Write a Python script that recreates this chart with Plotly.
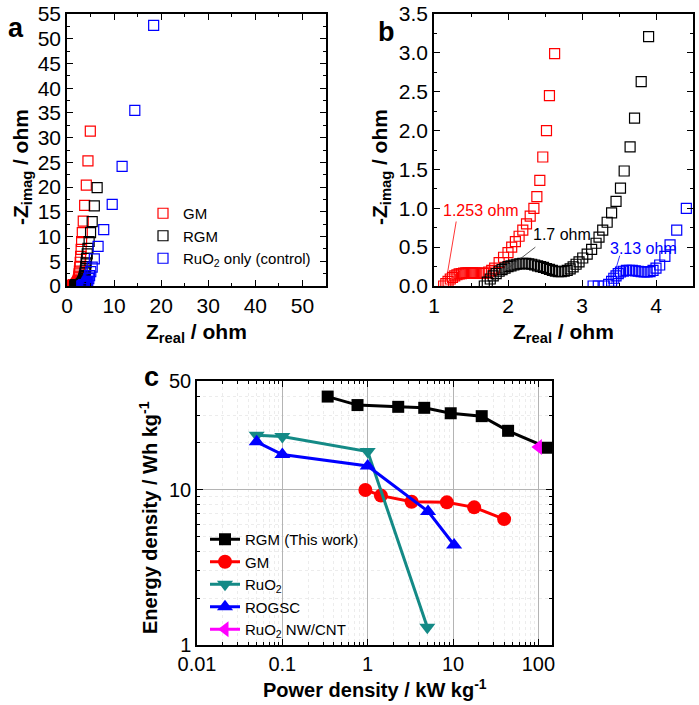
import math
import plotly.graph_objects as go

# ---------------- Nyquist data (panels a and b) ----------------
gm_zreal = [1.13, 1.16, 1.19, 1.22, 1.25, 1.28, 1.31, 1.34, 1.37, 1.40, 1.43, 1.46, 1.49, 1.52,
            1.55, 1.58, 1.61, 1.64, 1.67, 1.70, 1.74, 1.78, 1.82, 1.88, 1.94, 2.00, 2.05, 2.10,
            2.15, 2.20, 2.25, 2.30, 2.35, 2.39, 2.43, 2.47, 2.52, 2.56, 2.63,
            2.70, 2.80, 2.90, 3.00, 3.10, 3.25, 3.45, 3.75, 4.10, 4.45, 4.95]
gm_zimag = [0.00, 0.03, 0.06, 0.09, 0.11, 0.13, 0.145, 0.155, 0.16, 0.165, 0.17, 0.17, 0.17, 0.17,
            0.168, 0.165, 0.163, 0.162, 0.163, 0.166, 0.18, 0.20, 0.23, 0.30, 0.37, 0.43, 0.50, 0.57,
            0.64, 0.72, 0.80, 0.90, 1.00, 1.15, 1.36, 1.66, 2.00, 2.45, 2.99,
            3.8, 4.8, 6.0, 7.4, 9.0, 10.8, 13.1, 16.3, 20.4, 25.3, 31.3]

rgm_zreal = [1.68, 1.72, 1.76, 1.80, 1.84, 1.88, 1.92, 1.96, 2.00, 2.04, 2.08, 2.12, 2.16, 2.20,
             2.24, 2.28, 2.32, 2.36, 2.40, 2.44, 2.48, 2.52, 2.56, 2.60, 2.64, 2.68, 2.72, 2.76,
             2.80, 2.84, 2.88, 2.92, 2.96, 3.01, 3.07, 3.13, 3.19, 3.23, 3.28, 3.34, 3.40, 3.46,
             3.52, 3.57, 3.65, 3.71, 3.80, 3.90,
             3.98, 4.05, 4.15, 4.30, 4.45, 4.70, 5.00, 5.35, 5.80, 6.40]
rgm_zimag = [0.00, 0.05, 0.09, 0.13, 0.16, 0.19, 0.21, 0.23, 0.25, 0.26, 0.27, 0.28, 0.285, 0.29,
             0.29, 0.285, 0.28, 0.27, 0.26, 0.25, 0.24, 0.225, 0.215, 0.20, 0.19, 0.185, 0.185, 0.19,
             0.20, 0.22, 0.245, 0.28, 0.31, 0.36, 0.41, 0.47, 0.55, 0.63, 0.72, 0.82, 0.94, 1.09,
             1.26, 1.48, 1.79, 2.16, 2.63, 3.21,
             3.9, 4.7, 5.6, 6.5, 7.6, 9.0, 10.8, 13.0, 16.2, 19.9]

ruo2_zreal = [3.15, 3.22, 3.30, 3.36, 3.40, 3.43, 3.46, 3.49, 3.52, 3.56, 3.60, 3.64, 3.68, 3.72,
              3.76, 3.80, 3.84, 3.88, 3.92, 3.96, 4.00, 4.05, 4.12, 4.19, 4.28, 4.41,
              4.62, 4.80, 5.05, 5.35, 5.80, 6.60, 7.80, 9.60, 11.70, 14.40, 18.40]
ruo2_zimag = [0.0, 0.0, 0.0, 0.02, 0.06, 0.10, 0.13, 0.16, 0.18, 0.19, 0.20, 0.20, 0.20, 0.195,
              0.19, 0.185, 0.18, 0.18, 0.185, 0.20, 0.23, 0.27, 0.38, 0.53, 0.72, 1.0,
              1.5, 2.1, 2.9, 3.8, 5.5, 8.0, 11.4, 16.5, 24.2, 35.5, 52.7]

nyquist_names = ["GM", "RGM", "RuO<sub>2</sub> only (control)"]
nyquist_colors = ["#ff0000", "#000000", "#0000ff"]

# ---------------- Ragone data (panel c) ----------------
rgm_power = [0.34, 0.76, 2.28, 4.6, 9.4, 21.7, 44.2, 127]
rgm_energy = [39.7, 35.0, 34.1, 33.6, 31.0, 29.7, 23.9, 18.6]
gm_power = [0.94, 1.43, 3.27, 8.47, 17.7, 39.7]
gm_energy = [9.95, 9.15, 8.36, 8.28, 7.69, 6.46]
ruo2_power = [0.05, 0.1, 1.0, 5.0]
ruo2_energy = [22.4, 22.0, 17.6, 1.3]
rogsc_power = [0.05, 0.1, 1.0, 5.1, 10.3]
rogsc_energy = [20.3, 16.8, 14.2, 7.24, 4.4]
nwcnt_power = [100]
nwcnt_energy = [18.8]

power_ticks = [0.01, 0.1, 1, 10, 100]
power_ticktext = ["0.01", "0.1", "1", "10", "100"]
energy_ticks = [1, 10, 50]
energy_ticktext = ["1", "10", "50"]

W, H = 699, 705
FONT = "Arial, Liberation Sans, sans-serif"


def px_x(p):
    return p / W


def px_y(p):
    return 1 - p / H


fig = go.Figure()

nyq = [(gm_zreal, gm_zimag), (rgm_zreal, rgm_zimag), (ruo2_zreal, ruo2_zimag)]
for (xs, ys), name, color in zip(nyq, nyquist_names, nyquist_colors):
    fig.add_trace(go.Scatter(
        x=xs, y=ys, mode="markers", name=name, legend="legend",
        marker=dict(symbol="square-open", size=10, color=color, line=dict(width=1.2, color=color)),
        xaxis="x", yaxis="y"))
for (xs, ys), name, color in zip(nyq, nyquist_names, nyquist_colors):
    fig.add_trace(go.Scatter(
        x=xs, y=ys, mode="markers", name=name, showlegend=False,
        marker=dict(symbol="square-open", size=10, color=color, line=dict(width=1.2, color=color)),
        xaxis="x2", yaxis="y2"))

ragone = [
    ("RGM (This work)", rgm_power, rgm_energy, "#000000", "square", 12),
    ("GM", gm_power, gm_energy, "#ff0000", "circle", 14),
    ("RuO<sub>2</sub>", ruo2_power, ruo2_energy, "#148a86", "triangle-down", 14),
    ("ROGSC", rogsc_power, rogsc_energy, "#0000ff", "triangle-up", 14),
    ("RuO<sub>2</sub> NW/CNT", nwcnt_power, nwcnt_energy, "#ff00ff", "triangle-left", 14),
]
for name, xs, ys, color, sym, size in ragone:
    fig.add_trace(go.Scatter(
        x=xs, y=ys, mode="lines+markers", name=name, legend="legend2",
        line=dict(color=color, width=3),
        marker=dict(symbol=sym, size=size, color=color),
        xaxis="x3", yaxis="y3"))

axis_common = dict(showline=True, linecolor="black", linewidth=1.5, mirror="allticks",
                   ticks="inside", ticklen=6, tickwidth=1.2, tickcolor="black",
                   showgrid=False, zeroline=False, automargin=False,
                   tickfont=dict(family=FONT, size=21, color="black"))

minor_pow = [k * 10 ** e for e in range(-2, 3) for k in range(2, 10) if k * 10 ** e < 145]
minor_en = [k * 10 ** e for e in range(0, 2) for k in range(2, 10) if k * 10 ** e < 50]

fig.update_layout(
    template="none",
    width=W, height=H, margin=dict(l=0, r=0, t=0, b=0, autoexpand=False),
    paper_bgcolor="white", plot_bgcolor="white",
    font=dict(family=FONT, color="black"),
    xaxis=dict(axis_common, domain=[px_x(67), px_x(326)], range=[0, 55], tick0=0, dtick=10,
               anchor="y", minor=dict(ticks="inside", dtick=5, ticklen=3, tickcolor="black")),
    yaxis=dict(axis_common, domain=[px_y(286), px_y(14)], range=[0, 55], tick0=0, dtick=5,
               anchor="x", minor=dict(ticks="inside", dtick=2.5, ticklen=3, tickcolor="black")),
    xaxis2=dict(axis_common, domain=[px_x(434), px_x(693)], range=[1, 4.5], tick0=0, dtick=1,
                anchor="y2", minor=dict(ticks="inside", dtick=0.5, ticklen=3, tickcolor="black")),
    yaxis2=dict(axis_common, domain=[px_y(286), px_y(14)], range=[0, 3.5], tick0=0, dtick=0.5,
                tickformat=".1f", anchor="x2",
                minor=dict(ticks="inside", dtick=0.25, ticklen=3, tickcolor="black")),
    xaxis3=dict(axis_common, type="log", domain=[px_x(197), px_x(552)],
                range=[-2, 2.16], tickmode="array", tickvals=power_ticks, ticktext=power_ticktext,
                showgrid=True, gridcolor="#b4b4b4", gridwidth=1, anchor="y3",
                tickfont=dict(family=FONT, size=20, color="black"),
                minor=dict(tickmode="array", tickvals=minor_pow, ticks="inside", ticklen=3,
                           tickcolor="black", showgrid=True, gridcolor="#ececec", griddash="dot")),
    yaxis3=dict(axis_common, type="log", domain=[px_y(645), px_y(381)],
                range=[0, math.log10(50)], tickmode="array", tickvals=energy_ticks,
                ticktext=energy_ticktext, showgrid=True, gridcolor="#b4b4b4", gridwidth=1,
                anchor="x3", tickfont=dict(family=FONT, size=20, color="black"),
                minor=dict(tickmode="array", tickvals=minor_en, ticks="inside", ticklen=3,
                           tickcolor="black", showgrid=True, gridcolor="#ececec", griddash="dot")),
    legend=dict(x=px_x(143), y=px_y(197), xanchor="left", yanchor="top",
                bgcolor="rgba(0,0,0,0)", font=dict(family=FONT, size=15, color="black"),
                tracegroupgap=0, itemwidth=30),
    legend2=dict(x=px_x(205), y=px_y(523), xanchor="left", yanchor="top",
                 bgcolor="rgba(0,0,0,0)", font=dict(family=FONT, size=15, color="black"),
                 tracegroupgap=0, itemwidth=30),
    showlegend=True,
)

ann = []
# panel letters
for txt, x, y in [("a", 16, 28), ("b", 386, 32), ("c", 151, 377)]:
    ann.append(dict(text=f"<b>{txt}</b>", x=px_x(x), y=px_y(y), xref="paper", yref="paper",
                    showarrow=False, font=dict(family=FONT, size=27, color="black"),
                    xanchor="center", yanchor="middle"))
# axis titles
title_font = dict(family=FONT, size=21, color="black")
titles = [
    ("<b>-Z<sub>imag</sub> / ohm</b>", 22, 167, -90, title_font),
    ("<b>-Z<sub>imag</sub> / ohm</b>", 381, 167, -90, title_font),
    ("<b>Z<sub>real</sub> / ohm</b>", 196, 333, 0, title_font),
    ("<b>Z<sub>real</sub> / ohm</b>", 563, 333, 0, title_font),
    ("<b>Energy density / Wh kg<sup>-1</sup></b>", 148, 518, -90,
     dict(family=FONT, size=20, color="black")),
    ("<b>Power density / kW kg<sup>-1</sup></b>", 375, 688, 0,
     dict(family=FONT, size=20, color="black")),
]
for txt, x, y, ang, fnt in titles:
    ann.append(dict(text=txt, x=px_x(x), y=px_y(y), xref="paper", yref="paper",
                    showarrow=False, textangle=ang, font=fnt,
                    xanchor="center", yanchor="middle"))
# resistance labels in panel b
for txt, x, y, color in [("1.253 ohm", 1.63, 0.97, "#ff0000"), ("1.7 ohm", 2.73, 0.66, "#000000"),
                         ("3.13 ohm", 3.83, 0.485, "#0000ff")]:
    ann.append(dict(text=txt, x=x, y=y, xref="x2", yref="y2", showarrow=False,
                    xanchor="center", yanchor="middle",
                    font=dict(family=FONT, size=16, color=color)))
fig.update_layout(annotations=ann)

shapes = []
for (x0, y0, x1, y1, color) in [(1.30, 0.83, 1.165, 0.07, "#ff0000"),
                                (2.37, 0.50, 1.73, 0.03, "#333333"),
                                (3.51, 0.39, 3.40, 0.03, "#0000ff")]:
    shapes.append(dict(type="line", xref="x2", yref="y2", x0=x0, y0=y0, x1=x1, y1=y1,
                       line=dict(color=color, width=0.8)))
fig.update_layout(shapes=shapes)

fig.write_html("out.html", config={"displayModeBar": False},
               post_script="document.body.style.margin='0px';")
